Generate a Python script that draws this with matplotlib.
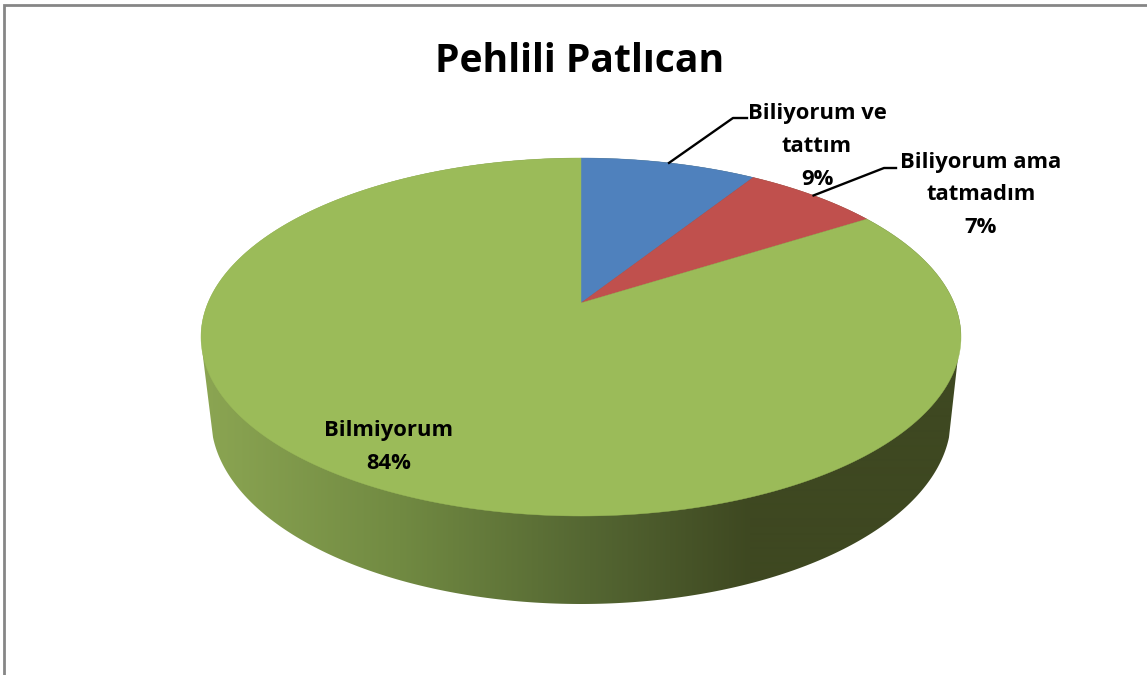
import numpy as np
import matplotlib
matplotlib.use('Agg')
import matplotlib.pyplot as plt
from matplotlib.patches import Polygon

plt.rcParams['font.family'] = ['Open Sans', 'DejaVu Sans']

title = 'Pehlili Patlıcan'
labels = ['Biliyorum ve\ntattım\n9%', 'Biliyorum ama\ntatmadım\n7%', 'Bilmiyorum\n84%']
shares = [9, 7, 84]
colors = ['#4F81BD', '#C0504D', '#9BBB59']

# pie geometry, in pixels of the picture
cx, cy, rx, ry = 581, 337, 380, 179
cx2, cy2, rx2, ry2 = 581, 418, 370, 186
persp = 0.19

# rim shading from left to right
rim_x = [205, 400, 590, 750, 960]
rim_r = [139, 113, 84, 62, 62]
rim_g = [165, 138, 102, 72, 72]
rim_b = [82, 66, 50, 33, 33]


def top_point(frac):
    # clockwise from 12 o'clock, tipped so the apex sits above the ellipse centre
    t = 2 * np.pi * np.asarray(frac)
    u, v = np.sin(t), np.cos(t)
    d = 1 + persp * v
    return cx + rx * u * np.sqrt(1 - persp**2) / d, cy - ry * (v + persp) / d


fig = plt.figure(figsize=(11.47, 6.75), dpi=100)
ax = fig.add_axes([0, 0, 1, 1])

# outer frame
ax.plot([4, 4, 1147], [675, 5, 5], color='#868686', lw=2, solid_joinstyle='miter')

# rim
t = np.linspace(np.radians(6), np.radians(174), 200)
lowx = cx2 - rx2 * np.cos(t)
lowy = cy2 + ry2 * np.sin(t)
t2 = np.linspace(0, np.pi, 200)
upx = cx + rx * np.cos(t2)
upy = cy - ry * np.sin(t2)
outline = np.r_[np.c_[lowx, lowy], [[cx + rx - 3, cy + 20]], np.c_[upx, upy], [[cx - rx + 2, cy + 20]]]
xs = np.arange(195, 970)
grad = np.zeros((1, len(xs), 3))
grad[0, :, 0] = np.interp(xs, rim_x, rim_r) / 255
grad[0, :, 1] = np.interp(xs, rim_x, rim_g) / 255
grad[0, :, 2] = np.interp(xs, rim_x, rim_b) / 255
im = ax.imshow(grad, extent=[195, 970, 620, 150], aspect='auto', interpolation='bilinear')
im.set_clip_path(Polygon(outline, transform=ax.transData))

# top face, one wedge per share
edges = np.cumsum([0] + shares) / sum(shares)
mids = (edges[:-1] + edges[1:]) / 2
apex_y = cy - ry * persp
for i in range(len(shares)):
    x, y = top_point(np.linspace(edges[i], edges[i + 1], 300))
    ax.fill(np.r_[cx, x], np.r_[apex_y, y], color=colors[i], lw=0.3)

# leader lines for the two small slices
lead = [[(733, 118), (747, 118)], [(884, 168), (896, 168)]]
for i in range(2):
    mx, my = top_point(mids[i])
    ax.plot([mx, lead[i][0][0], lead[i][1][0]], [my, lead[i][0][1], lead[i][1][1]], color='black', lw=1.7)

ax.text(580, 61, title, fontsize=28.2, fontweight='bold', ha='center', va='center')
ax.text(817, 146.5, labels[0], fontsize=15.8, fontweight='bold', ha='center', va='center', linespacing=1.72)
ax.text(981, 195, labels[1], fontsize=15.8, fontweight='bold', ha='center', va='center', linespacing=1.72)
ax.text(389, 447, labels[2], fontsize=15.8, fontweight='bold', ha='center', va='center', linespacing=1.72)

ax.set_xlim(0, 1147)
ax.set_ylim(675, 0)
ax.axis('off')

fig.savefig('out.png', dpi=100)
